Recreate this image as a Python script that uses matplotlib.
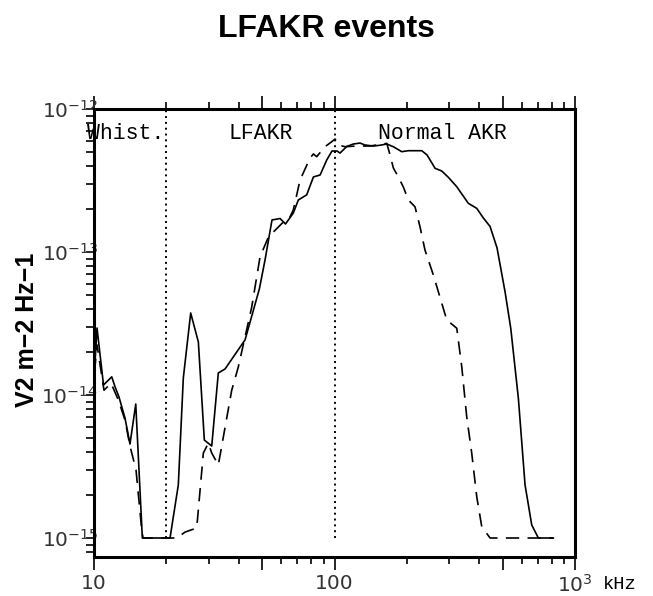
import matplotlib
matplotlib.use("Agg")
import matplotlib.pyplot as plt
from matplotlib.ticker import NullFormatter

# spectra: frequency in kHz, power in V2 m-2 Hz-1
freq_solid = [10.05, 10.29, 10.95, 11.85, 12.23, 12.70, 13.45, 14.11, 14.91, 15.88,
              16.77, 20.70, 22.41, 23.51, 25.23, 27.15, 28.75, 30.86, 32.87, 35.05,
              42.46, 48.68, 51.4, 54.95, 59.35, 62.55, 67.4, 70.7, 76.6, 81.7,
              87.1, 92.8, 97.6, 102.4, 105.4, 112.4, 119.7, 127.6, 133.9, 145.0,
              154.6, 164.9, 175.6, 190.3, 202.8, 230.5, 242.5, 261.8, 279.1, 297.3,
              322.3, 360.0, 390.2, 415.6, 443.4, 474.0, 511.6, 540.4, 581.3, 619.7,
              660.7, 703.8, 812.5]
power_solid = [1.50e-14, 2.94e-14, 1.175e-14, 1.34e-14, 1.14e-14, 9.68e-15, 6.90e-15, 4.54e-15, 8.65e-15, 1.0e-15,
               1.0e-15, 1.0e-15, 2.35e-15, 1.315e-14, 3.745e-14, 2.35e-14, 4.84e-15, 4.40e-15, 1.426e-14, 1.52e-14,
               2.43e-14, 5.51e-14, 8.79e-14, 1.675e-13, 1.715e-13, 1.57e-13, 1.875e-13, 2.31e-13, 2.51e-13, 3.35e-13,
               3.455e-13, 4.40e-13, 5.085e-13, 5.085e-13, 4.92e-13, 5.47e-13, 5.69e-13, 5.78e-13, 5.60e-13, 5.51e-13,
               5.58e-13, 5.69e-13, 5.45e-13, 5.03e-13, 5.11e-13, 5.11e-13, 4.77e-13, 3.85e-13, 3.685e-13, 3.33e-13,
               2.86e-13, 2.19e-13, 2.02e-13, 1.73e-13, 1.508e-13, 1.067e-13, 5.28e-14, 2.93e-14, 9.48e-15, 2.35e-15,
               1.233e-15, 1.0e-15, 1.0e-15]

freq_dashed = [10.05, 10.29, 11.0, 11.77, 12.62, 13.45, 14.11, 14.95, 15.79, 15.99,
               22.07, 23.9, 26.73, 28.48, 29.88, 30.86, 32.87, 37.37, 39.8, 42.46,
               45.25, 49.0, 53.06, 55.67, 61.24, 65.3, 67.4, 71.9, 79.1, 81.7,
               84.3, 91.3, 97.4, 100.5, 103.7, 110.6, 123.7, 140.5, 164.9, 170.2,
               175.6, 184.2, 193.2, 202.8, 216.1, 226.7, 237.8, 257.6, 292.8, 322.3,
               338.0, 354.5, 372.0, 390.2, 409.4, 443.4, 812.5]
power_dashed = [1.45e-14, 2.24e-14, 1.08e-14, 1.21e-14, 9.23e-15, 6.68e-15, 4.40e-15, 2.99e-15, 1.14e-15, 1.0e-15,
                1.0e-15, 1.10e-15, 1.175e-15, 3.93e-15, 4.61e-15, 3.93e-15, 3.24e-15, 1.08e-14, 1.57e-14, 2.55e-14,
                4.12e-14, 9.23e-14, 1.27e-13, 1.38e-13, 1.62e-13, 1.76e-13, 1.97e-13, 3.19e-13, 4.54e-13, 4.85e-13,
                4.64e-13, 5.45e-13, 5.91e-13, 6.17e-13, 5.60e-13, 5.45e-13, 5.51e-13, 5.51e-13, 5.75e-13, 4.77e-13,
                3.87e-13, 3.35e-13, 2.85e-13, 2.31e-13, 2.07e-13, 1.50e-13, 1.03e-13, 6.90e-14, 3.35e-14, 2.93e-14,
                1.58e-14, 7.05e-15, 3.91e-15, 1.945e-15, 1.20e-15, 1.0e-15, 1.0e-15]

# band limits (kHz) and band names
band_edges = [20, 100]
band_names = ["Whist.", "LFAKR", "Normal AKR"]
band_label_x = [9.35, 36.4, 152.0]

x_major = [10, 50, 100, 500, 1000]
x_major_labels = ["10", "", "100", "", "$10^3$"]
x_minor = [20, 30, 40, 60, 70, 80, 90, 200, 300, 400, 600, 700, 800, 900]
y_major = [1e-15, 1e-14, 1e-13, 1e-12]

fig = plt.figure(figsize=(6.53, 5.96), dpi=100)
ax = fig.add_axes([0.144, 0.0654, 0.7366, 0.7517])

ax.plot(freq_solid, power_solid, color="black", lw=1.2)
ax.plot(freq_dashed, power_dashed, color="black", lw=1.2, linestyle=(0, (8, 5)))
ax.vlines(band_edges, 1e-15, 1e-12, colors="black", lw=1.4, linestyles=[(0, (1, 2))])

for name, fx in zip(band_names, band_label_x):
    ax.text(fx, 0.933, name, transform=ax.get_xaxis_transform(),
            family="Liberation Mono", fontsize=15.5, ha="left", va="baseline")

ax.set_xscale("log")
ax.set_yscale("log")
ax.set_xlim(10, 1000)
ax.set_ylim(10 ** -15.133, 1e-12)

ax.set_xticks(x_major, labels=x_major_labels)
ax.set_xticks(x_minor, minor=True)
ax.xaxis.set_minor_formatter(NullFormatter())
ax.set_yticks(y_major)
ax.yaxis.set_minor_formatter(NullFormatter())

for s in ax.spines.values():
    s.set_linewidth(2.2)
ax.tick_params(axis="x", which="both", direction="out", top=True, bottom=True,
               width=1.2, labelsize=14.5, labelcolor="#333333")
ax.tick_params(axis="x", which="major", length=9.5, pad=2.5)
ax.tick_params(axis="x", which="minor", length=5)
ax.tick_params(axis="y", which="both", direction="out", left=True, right=False,
               width=1.2, length=5.5, labelsize=14.5, labelcolor="#333333", pad=-8.5)

fig.text(603 / 653, 0.02, "kHz", family="Liberation Mono", fontsize=13.5,
         ha="left", va="center")
fig.text(27 / 653, 1 - 330 / 596, "V2 m\u22122 Hz\u22121", rotation=90, fontsize=18,
         fontweight="bold", family="Liberation Sans", ha="center", va="center")
fig.suptitle("LFAKR events", fontsize=23, fontweight="bold", family="Liberation Sans",
             y=1 - 29 / 596, va="center")

fig.savefig("out.png", dpi=100)
